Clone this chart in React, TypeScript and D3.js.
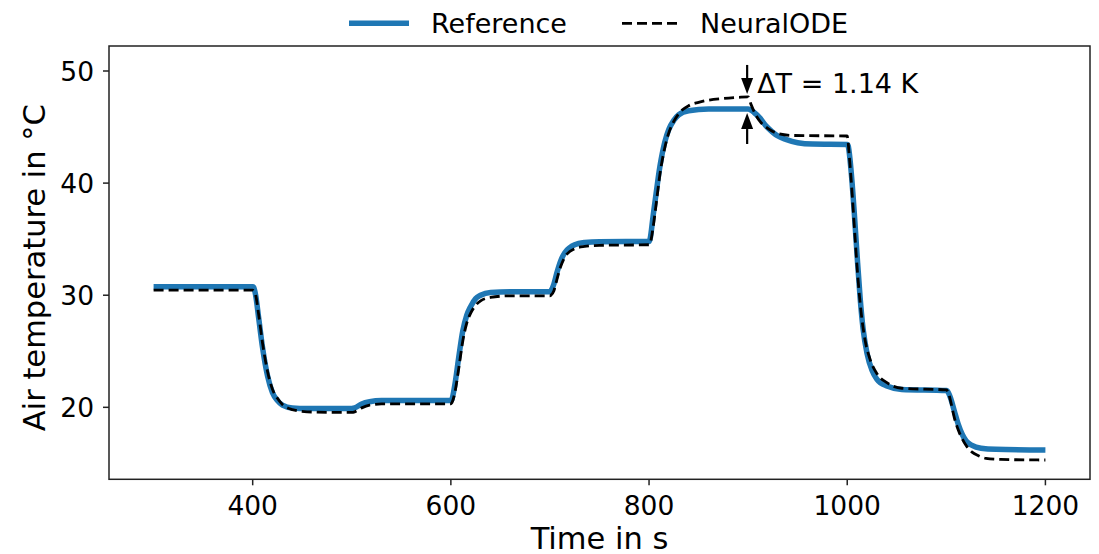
import React from "react";
import * as d3 from "d3";

// ---- data ----
const timeRef: number[] = [300, 400, 401, 403, 406, 410, 415, 420, 425, 430, 440, 455, 480, 500, 503, 510, 518, 530, 600, 601, 604, 608, 612, 616, 620, 625, 630, 640, 660, 700, 701, 704, 707, 711, 715, 720, 725, 735, 750, 800, 801, 804, 807, 811, 816, 820, 825, 830, 840, 860, 900, 902, 906, 912, 918, 924, 930, 938, 950, 965, 1000, 1001, 1004, 1007, 1010, 1013, 1016, 1020, 1025, 1030, 1040, 1055, 1100, 1101, 1104, 1108, 1112, 1116, 1120, 1126, 1135, 1150, 1200];
const tempRef: number[] = [30.75, 30.75, 30.7, 30.0, 28.0, 25.3, 22.8, 21.3, 20.6, 20.2, 19.95, 19.9, 19.9, 19.9, 19.95, 20.3, 20.5, 20.6, 20.6, 20.7, 22.0, 24.5, 26.8, 28.2, 29.0, 29.7, 30.0, 30.25, 30.3, 30.3, 30.4, 31.0, 32.0, 33.1, 33.8, 34.25, 34.5, 34.7, 34.78, 34.8, 35.0, 37.0, 39.0, 41.5, 43.7, 44.8, 45.6, 46.1, 46.45, 46.6, 46.6, 46.55, 46.3, 45.8, 45.1, 44.6, 44.2, 43.9, 43.6, 43.48, 43.45, 43.3, 41.0, 37.5, 33.5, 29.8, 27.0, 24.8, 23.3, 22.5, 21.9, 21.6, 21.5, 21.45, 20.9, 19.7, 18.5, 17.6, 17.0, 16.6, 16.35, 16.25, 16.2];

const timeNode: number[] = [300, 400, 401, 403, 406, 410, 415, 420, 425, 430, 440, 455, 480, 500, 503, 510, 518, 530, 600, 601, 604, 608, 612, 616, 620, 625, 630, 640, 660, 700, 701, 704, 707, 711, 715, 720, 725, 735, 750, 800, 801, 804, 807, 811, 816, 820, 825, 830, 840, 850, 860, 875, 890, 900, 903, 907, 912, 918, 924, 931, 945, 1000, 1002, 1005, 1008, 1011, 1014, 1018, 1023, 1030, 1040, 1055, 1100, 1102, 1105, 1108, 1112, 1116, 1120, 1126, 1132, 1140, 1155, 1200];
const tempNode: number[] = [30.45, 30.45, 30.4, 30.0, 28.3, 25.7, 23.2, 21.6, 20.8, 20.25, 19.8, 19.6, 19.55, 19.55, 19.6, 19.95, 20.2, 20.3, 20.3, 20.4, 21.3, 23.5, 25.9, 27.5, 28.4, 29.1, 29.5, 29.8, 29.95, 29.95, 30.0, 30.4, 31.4, 32.6, 33.4, 33.9, 34.15, 34.35, 34.45, 34.5, 34.6, 36.0, 38.0, 40.8, 43.2, 44.5, 45.5, 46.2, 46.9, 47.2, 47.4, 47.55, 47.65, 47.7, 47.0, 46.2, 45.5, 45.0, 44.65, 44.4, 44.25, 44.2, 42.5, 39.0, 35.0, 31.3, 28.5, 26.0, 24.3, 23.0, 22.2, 21.7, 21.55, 21.3, 20.3, 19.1, 18.0, 17.2, 16.6, 16.0, 15.7, 15.45, 15.35, 15.3];

const xTicks: number[] = [400, 600, 800, 1000, 1200];
const yTicks: number[] = [20, 30, 40, 50];
const xDomain: [number, number] = [255, 1245];
const yDomain: [number, number] = [13.58, 52.23];

const seriesNames: string[] = ["Reference", "NeuralODE"];
const annotationText = "ΔT = 1.14 K";
const annotationTime = 899;
const arrowDown: [number, number] = [50.54, 47.95];
const arrowUp: [number, number] = [43.49, 46.25];

const W = 1099;
const H = 554;
const M = { left: 109, right: 1090, top: 46, bottom: 479.3 };
const FONT = "DejaVu Sans, sans-serif";
const BLUE = "#1f77b4";

function Arrow({ x, y0, y1 }: { x: number; y0: number; y1: number }) {
  const dir = y1 > y0 ? 1 : -1;
  const headL = 16;
  const headW = 6;
  const base = y1 - dir * headL;
  return (
    <g>
      <line x1={x} x2={x} y1={y0} y2={base} stroke="#000" strokeWidth={2.2} />
      <polygon points={`${x},${y1} ${x - headW},${base} ${x + headW},${base}`} fill="#000" />
    </g>
  );
}

export default function App() {
  const xs = d3.scaleLinear().domain(xDomain).range([M.left, M.right]);
  const ys = d3.scaleLinear().domain(yDomain).range([M.bottom, M.top]);

  const lineGen = d3
    .line<[number, number]>()
    .x((d) => xs(d[0]))
    .y((d) => ys(d[1]))
    .curve(d3.curveMonotoneX);

  const refPath = lineGen(timeRef.map((t, i) => [t, tempRef[i]] as [number, number])) || "";
  const nodePath = lineGen(timeNode.map((t, i) => [t, tempNode[i]] as [number, number])) || "";

  const ax = xs(annotationTime);

  return (
    <svg
      width={W}
      height={H}
      style={{ position: "absolute", left: 0, top: 0, background: "#fff" }}
      fontFamily={FONT}
    >
      <rect x={0} y={0} width={W} height={H} fill="#fff" />
      <defs>
        <clipPath id="plotclip">
          <rect x={M.left} y={M.top} width={M.right - M.left} height={M.bottom - M.top} />
        </clipPath>
      </defs>

      <g clipPath="url(#plotclip)">
        <path d={refPath} fill="none" stroke={BLUE} strokeWidth={5.5} strokeLinejoin="round" />
        <path d={nodePath} fill="none" stroke="#000" strokeWidth={2.8} strokeDasharray="10,5" />
      </g>

      {/* annotation */}
      <Arrow x={ax} y0={ys(arrowDown[0])} y1={ys(arrowDown[1])} />
      <Arrow x={ax} y0={ys(arrowUp[0])} y1={ys(arrowUp[1])} />
      <text x={ax + 10} y={92.5} fontSize={27} fill="#000">
        {annotationText}
      </text>

      {/* spines */}
      <rect
        x={M.left}
        y={M.top}
        width={M.right - M.left}
        height={M.bottom - M.top}
        fill="none"
        stroke="#222"
        strokeWidth={1.5}
      />

      {/* x ticks */}
      {xTicks.map((t) => (
        <g key={"x" + t}>
          <line x1={xs(t)} x2={xs(t)} y1={M.bottom} y2={M.bottom + 6} stroke="#222" strokeWidth={1.5} />
          <text x={xs(t)} y={515} fontSize={26.5} textAnchor="middle" fill="#000">
            {t}
          </text>
        </g>
      ))}
      {/* y ticks */}
      {yTicks.map((v) => (
        <g key={"y" + v}>
          <line x1={M.left - 6} x2={M.left} y1={ys(v)} y2={ys(v)} stroke="#222" strokeWidth={1.5} />
          <text x={94} y={ys(v) + 9.5} fontSize={26.5} textAnchor="end" fill="#000">
            {v}
          </text>
        </g>
      ))}

      {/* axis labels */}
      <text x={(M.left + M.right) / 2} y={549} fontSize={30.5} textAnchor="middle" fill="#000">
        Time in s
      </text>
      <text
        transform={`translate(45, ${(M.top + M.bottom) / 2 + 5}) rotate(-90)`}
        fontSize={30.5}
        textAnchor="middle"
        fill="#000"
      >
        Air temperature in °C
      </text>

      {/* legend */}
      <line x1={349} x2={409} y1={23.3} y2={23.3} stroke={BLUE} strokeWidth={5.5} />
      <text x={431} y={33} fontSize={27} fill="#000">
        {seriesNames[0]}
      </text>
      <line x1={622} x2={680} y1={23.3} y2={23.3} stroke="#000" strokeWidth={2.8} strokeDasharray="10,5" />
      <text x={700} y={33} fontSize={27} fill="#000">
        {seriesNames[1]}
      </text>
    </svg>
  );
}
